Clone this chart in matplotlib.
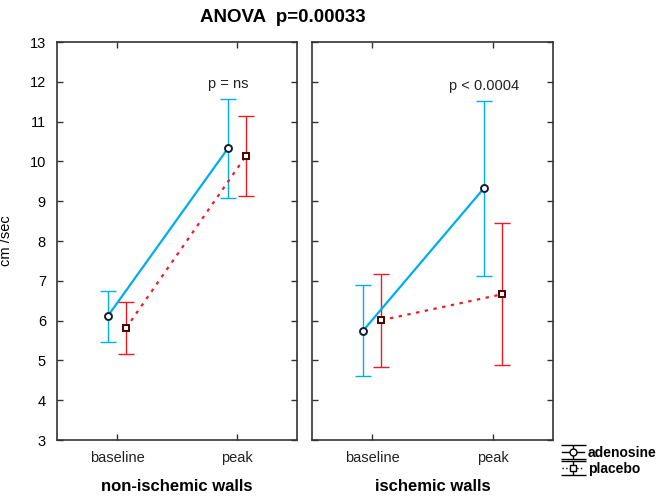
import numpy as np
import matplotlib
matplotlib.use("Agg")
import matplotlib.pyplot as plt

plt.rcParams['font.family'] = ['Liberation Sans', 'DejaVu Sans']

# Data
categories = ["baseline", "peak"]
panels = ["non-ischemic walls", "ischemic walls"]
notes = ["p = ns", "p < 0.0004"]

aden_mean = [[6.12, 10.33], [5.75, 9.32]]
aden_low = [[5.46, 9.08], [4.60, 7.13]]
aden_high = [[6.74, 11.56], [6.89, 11.51]]

plac_mean = [[5.81, 10.14], [6.01, 6.66]]
plac_low = [[5.15, 9.14], [4.83, 4.88]]
plac_high = [[6.47, 11.14], [7.18, 8.44]]

blue = "#00AEEF"
red = "#ED1C24"

fig = plt.figure(figsize=(6.6, 4.98), dpi=100)
ax1 = fig.add_axes([57/660, 1 - 440/498, 240/660, 398/498])
ax2 = fig.add_axes([312/660, 1 - 440/498, 241/660, 398/498])

x = np.arange(len(categories))
off = 0.075

for i, ax in enumerate([ax1, ax2]):
    am = np.array(aden_mean[i])
    pm = np.array(plac_mean[i])
    aerr = [am - np.array(aden_low[i]), np.array(aden_high[i]) - am]
    perr = [pm - np.array(plac_low[i]), np.array(plac_high[i]) - pm]

    ax.errorbar(x - off, am, yerr=aerr, fmt="none", ecolor=blue,
                elinewidth=1, capsize=6, capthick=1, zorder=2)
    ax.errorbar(x + off, pm, yerr=perr, fmt="none", ecolor=red,
                elinewidth=1, capsize=6, capthick=1, zorder=2)
    ax.plot(x - off, am, color=blue, lw=1.6, zorder=3)
    ax.plot(x + off, pm, color=red, lw=1.6, dashes=(1.5, 2.5), zorder=3)
    ax.plot(x - off, am, "o", ms=5, mfc="white", mec="#102030", mew=1.4, zorder=4)
    ax.plot(x + off, pm, "s", ms=5, mfc="white", mec="#500000", mew=1.4, zorder=4)

    ax.set_xlim(-0.5, 1.5)
    ax.set_ylim(3, 13)
    ax.set_yticks(range(3, 14))
    ax.set_xticks(x)
    ax.set_xticklabels(categories, fontsize=10.5, color="#222222")
    ax.tick_params(direction="in", length=4, width=1, top=True, right=True,
                   color="#333333", labelsize=10.5, pad=8)
    for s in ax.spines.values():
        s.set_color("#333333")
        s.set_linewidth(1.2)
    ax.set_xlabel(panels[i], fontsize=12, fontweight="bold", labelpad=10)
    ax.text(1 - off, aden_high[i][1] + 0.22, notes[i], ha="center",
            va="bottom", fontsize=10.5, color="#222222")

ax2.tick_params(labelleft=False)
ax1.set_ylabel("cm /sec", fontsize=10.5, labelpad=12)

fig.text(283/660, 1 - 18/498, "ANOVA  p=0.00033", ha="center", va="center",
         fontsize=13.5, fontweight="bold")

# legend with black errorbar glyphs
h1 = ax1.errorbar([np.nan], [np.nan], yerr=[1], color="black", marker="o",
                  mfc="white", mec="black", ms=5, lw=1, capsize=9)
h2 = ax1.errorbar([np.nan], [np.nan], yerr=[1], color="black", marker="s",
                  mfc="white", mec="black", ms=5, lw=1, capsize=9, ls=":")
leg = fig.legend([h1, h2], ["adenosine", "placebo"], loc="upper left",
                 bbox_to_anchor=(556/660, 1 - 440/498), frameon=False,
                 prop={"weight": "bold", "size": 10}, handlelength=1.6,
                 handletextpad=0.3, labelspacing=0.15, borderaxespad=0)

fig.savefig("out.png", dpi=100)
